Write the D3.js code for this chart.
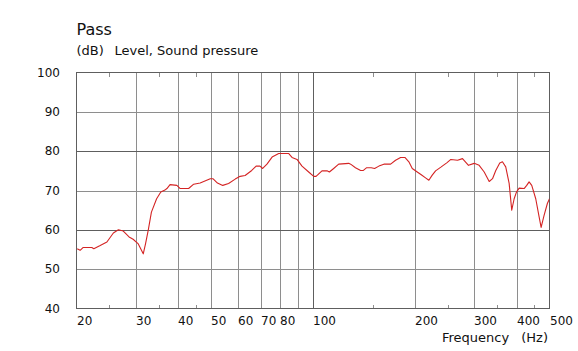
<!DOCTYPE html>
<html>
<head>
<meta charset="utf-8">
<script src="https://cdn.jsdelivr.net/npm/d3@7"></script>
<style>
  html, body { margin: 0; padding: 0; background: #fff; }
  svg { display: block; font-family: "DejaVu Sans", Verdana, sans-serif; }
</style>
</head>
<body>
<svg id="chart" width="578" height="351"></svg>
<script>
// Values (frequency in Hz, level in dB)
const freqHz = [
  20.1, 20.5, 20.9, 22.2, 22.5, 23.5, 24.6, 25.7, 26.6, 27.5, 28.6, 29.4, 30.4, 31.5, 32.0, 32.6,
  33.3, 34.5, 35.5, 36.5, 37.0, 37.8, 39.6, 40.5, 42.9, 44.4, 46.4, 49.7, 50.6, 52.2, 54.1, 56.3,
  58.9, 60.9, 63.0, 65.9, 67.9, 69.7, 71.0, 73.1, 75.7, 79.2, 84.8, 86.7, 89.7, 92.8, 97.1, 100.5,
  102.1, 106.3, 110.0, 111.8, 115.1, 119.1, 127.5, 129.2, 133.5, 138.3, 140.9, 144.1, 148.7, 152.1,
  156.6, 162.0, 169.6, 175.4, 181.5, 186.9, 192.0, 196.5, 203.3, 208.9, 215.1, 220.0, 225.1, 230.3,
  239.3, 249.0, 255.5, 267.4, 276.6, 288.1, 299.5, 309.8, 320.6, 331.7, 339.3, 346.9, 356.4, 363.0,
  371.2, 379.9, 386.7, 393.1, 399.3, 406.7, 420.7, 428.2, 435.2, 443.1, 455.3, 465.9, 472.3, 481.9,
  492.8, 500,
]
const levelDb = [
  55.2, 54.8, 55.5, 55.5, 55.2, 56.0, 56.9, 59.2, 60.0, 59.7, 58.2, 57.6, 56.5, 53.9, 56.5, 60.0,
  64.5, 67.9, 69.6, 70.1, 70.5, 71.5, 71.3, 70.5, 70.5, 71.6, 71.9, 73.0, 73.0, 71.9, 71.3, 71.8,
  72.9, 73.6, 73.8, 75.1, 76.2, 76.2, 75.6, 76.7, 78.5, 79.4, 79.4, 78.4, 77.9, 76.2, 74.7, 73.6,
  73.6, 75.0, 75.0, 74.7, 75.6, 76.7, 76.9, 76.7, 75.8, 75.1, 75.1, 75.8, 75.8, 75.6,
  76.2, 76.7, 76.7, 77.7, 78.4, 78.4, 77.3, 75.6, 74.7, 74.0, 73.2, 72.6, 73.9, 75.0,
  76.0, 77.1, 77.9, 77.7, 78.1, 76.4, 76.9, 76.4, 74.7, 72.3, 73.0, 75.1, 77.0, 77.3,
  76.0, 71.8, 65.0, 67.9, 69.6, 70.6, 70.5, 71.3, 72.2, 71.3, 67.9, 63.3, 60.6, 63.7,
  66.7, 67.9,
]

const xTicks = [20, 30, 40, 50, 60, 70, 80, 100, 200, 300, 400, 500]
const xGrid = [30, 40, 50, 60, 70, 80, 90, 100, 200, 300, 400]
const xMajorGrid = [100]
const xMinorTicks = [25, 35, 45, 150, 250, 350, 450]
const yTicks = [40, 50, 60, 70, 80, 90, 100]
const yMajorGrid = [60, 80]

const title = "Pass"
const unitLabel = "(dB)"
const quantityLabel = "Level, Sound pressure"
const xLabel = "Frequency"
const xUnit = "(Hz)"

const svg = d3.select("#chart")
const m = {left: 76.5, right: 549.5, top: 72.5, bottom: 308.5}

const x = d3.scaleLog().domain([20, 500]).range([m.left, m.right])
const y = d3.scaleLinear().domain([40, 100]).range([m.bottom, m.top])

const minorColor = "#8e8e8e"
const majorColor = "#5e5e5e"
const textColor = "#111"

// Grid
const grid = svg.append("g").attr("shape-rendering", "crispEdges")

grid.selectAll("line.v")
  .data(xGrid)
  .join("line")
  .attr("class", "v")
  .attr("x1", (d) => Math.round(x(d)) + 0.5)
  .attr("x2", (d) => Math.round(x(d)) + 0.5)
  .attr("y1", m.top)
  .attr("y2", m.bottom)
  .attr("stroke", (d) => (xMajorGrid.includes(d) ? majorColor : minorColor))

grid.selectAll("line.h")
  .data(yTicks.slice(1, -1))
  .join("line")
  .attr("class", "h")
  .attr("x1", m.left)
  .attr("x2", m.right)
  .attr("y1", (d) => Math.round(y(d)) + 0.5)
  .attr("y2", (d) => Math.round(y(d)) + 0.5)
  .attr("stroke", (d) => (yMajorGrid.includes(d) ? majorColor : minorColor))

// small ticks on top and bottom edges
for (const [y0, dir] of [[m.top, 1], [m.bottom, -1]]) {
  grid.selectAll(null)
    .data(xMinorTicks)
    .join("line")
    .attr("x1", (d) => Math.round(x(d)) + 0.5)
    .attr("x2", (d) => Math.round(x(d)) + 0.5)
    .attr("y1", y0)
    .attr("y2", y0 + dir * 4)
    .attr("stroke", minorColor)
}

grid.append("rect")
  .attr("x", m.left)
  .attr("y", m.top)
  .attr("width", m.right - m.left)
  .attr("height", m.bottom - m.top)
  .attr("fill", "none")
  .attr("stroke", majorColor)

// Curve
svg.append("clipPath")
  .attr("id", "plot-clip")
  .append("rect")
  .attr("x", m.left)
  .attr("y", m.top)
  .attr("width", m.right - m.left)
  .attr("height", m.bottom - m.top)

const points = freqHz.map((f, i) => ({f, v: levelDb[i]}))
const line = d3.line()
  .x((d) => x(d.f))
  .y((d) => y(d.v))
  .curve(d3.curveLinear)

svg.append("path")
  .datum(points)
  .attr("clip-path", "url(#plot-clip)")
  .attr("fill", "none")
  .attr("stroke", "#d42424")
  .attr("stroke-width", 1.1)
  .attr("stroke-linejoin", "round")
  .attr("d", line)

// Axis labels
svg.append("g")
  .selectAll("text")
  .data(yTicks)
  .join("text")
  .attr("x", 60)
  .attr("y", (d) => y(d))
  .attr("dy", "0.36em")
  .attr("text-anchor", "end")
  .attr("font-size", 12)
  .attr("fill", textColor)
  .text((d) => d)

svg.append("g")
  .selectAll("text")
  .data(xTicks)
  .join("text")
  .attr("x", (d) => Math.round(x(d)))
  .attr("y", 324.5)
  .attr("text-anchor", "start")
  .attr("font-size", 12)
  .attr("fill", textColor)
  .text((d) => d)

svg.append("text")
  .attr("x", 442)
  .attr("y", 341.5)
  .attr("font-size", 13)
  .attr("fill", textColor)
  .text(xLabel)

svg.append("text")
  .attr("x", 548)
  .attr("y", 341.5)
  .attr("text-anchor", "end")
  .attr("font-size", 13)
  .attr("fill", textColor)
  .text(xUnit)

// Titles
svg.append("text")
  .attr("x", 76.5)
  .attr("y", 34.5)
  .attr("font-size", 16)
  .attr("fill", textColor)
  .text(title)

svg.append("text")
  .attr("x", 76.5)
  .attr("y", 55)
  .attr("font-size", 13)
  .attr("fill", textColor)
  .text(unitLabel)

svg.append("text")
  .attr("x", 114.5)
  .attr("y", 55)
  .attr("font-size", 13)
  .attr("fill", textColor)
  .text(quantityLabel)
</script>
</body>
</html>
